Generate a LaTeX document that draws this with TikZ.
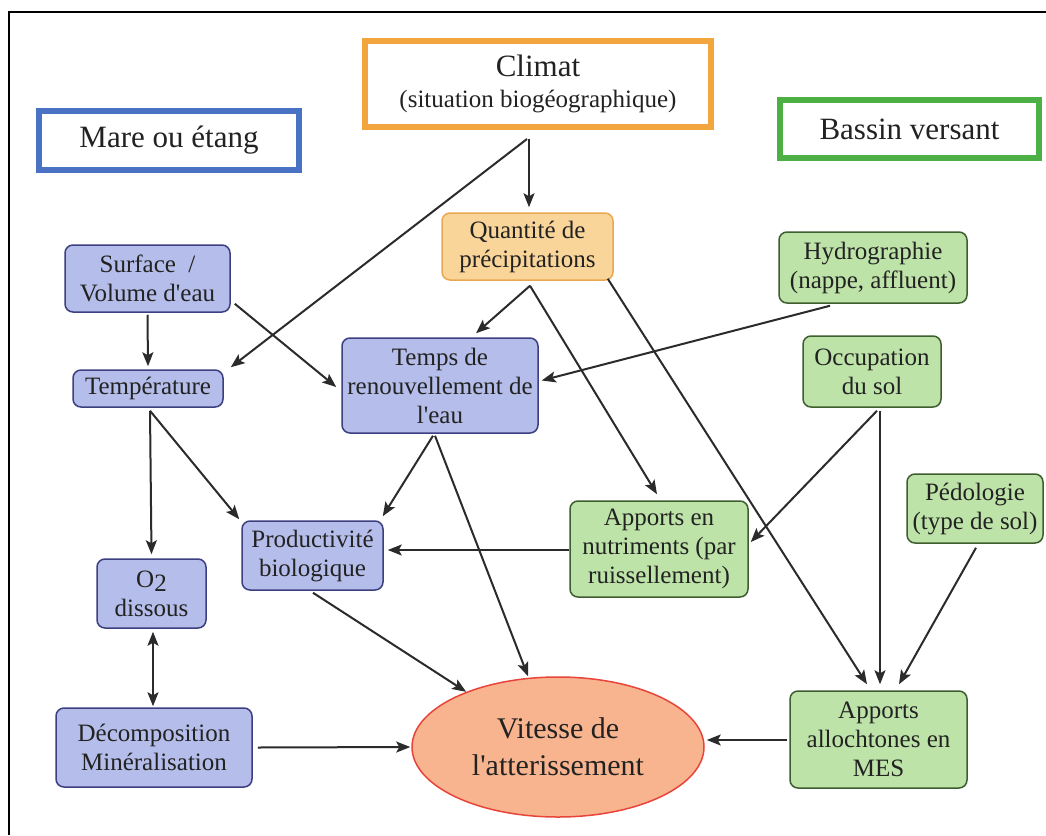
\documentclass[tikz,border=0pt]{standalone}
\usepackage{fontspec}
\setmainfont{Liberation Serif}[Ligatures=TeXOff]
\usetikzlibrary{arrows.meta,shapes.geometric,calc}
\definecolor{hblue}{HTML}{4A72C4}
\definecolor{horange}{HTML}{F4A63E}
\definecolor{hgreen}{HTML}{4DB045}
\definecolor{bfill}{HTML}{B5BEEA}
\definecolor{bdraw}{HTML}{3C3F80}
\definecolor{gfill}{HTML}{BEE3A8}
\definecolor{gdraw}{HTML}{3E5E30}
\definecolor{ofill}{HTML}{FAD59A}
\definecolor{odraw}{HTML}{E9A850}
\definecolor{efill}{HTML}{F8B48E}
\definecolor{edraw}{HTML}{E8443A}
\definecolor{arrc}{HTML}{2B2B2B}
\definecolor{txt}{HTML}{222222}
\begin{document}
\begin{tikzpicture}[x=1pt,y=-1pt,
  header/.style={draw, line width=6pt, fill=white, text=txt, align=center, inner sep=0pt, font=\fontsize{31}{31}\selectfont},
  boxbase/.style={rounded corners=8pt, line width=1.5pt, align=center, text=txt, inner sep=2pt, font=\fontsize{25}{29}\selectfont},
  bbox/.style={boxbase, draw=bdraw, fill=bfill},
  gbox/.style={boxbase, draw=gdraw, fill=gfill},
  obox/.style={boxbase, draw=odraw, fill=ofill},
  arr/.style={draw=arrc, line width=2pt, -{Stealth[length=14pt,width=11pt,inset=3pt]}},
  darr/.style={draw=arrc, line width=2pt, {Stealth[length=14pt,width=11pt,inset=3pt]}-{Stealth[length=14pt,width=11pt,inset=3pt]}}
]
\useasboundingbox (0,0) rectangle (1046,835);
\fill[white] (0,0) rectangle (1046,835);
\draw[black, line width=2.2pt] (9,835) -- (9,12) -- (1046,12);

% headers
\node[header, draw=hblue, minimum width=260pt, minimum height=59pt] (mare) at (169,140.5) {Mare ou étang};
\node[header, draw=horange, minimum width=346pt, minimum height=86pt] (clim) at (538,84) {Climat\\[0pt]{\fontsize{25}{25}\selectfont (situation biogéographique)}};
\node[header, draw=hgreen, minimum width=259pt, minimum height=58pt] (bassin) at (909.5,129) {Bassin versant};

% blue boxes
\node[bbox, minimum width=165pt, minimum height=67pt] (surf) at (147.5,278.5) {Surface \ /\\Volume d'eau};
\node[bbox, minimum width=150pt, minimum height=37pt] (temp) at (148,388.5) {Température};
\node[bbox, minimum width=196pt, minimum height=95pt] (tren) at (440,385.5) {Temps de\\renouvellement de\\l'eau};
\node[bbox, minimum width=141pt, minimum height=69pt] (prod) at (312.5,555.5) {Productivité\\biologique};
\node[bbox, minimum width=109pt, minimum height=69pt] (o2) at (151.5,593.5) {O\raisebox{-0.35ex}{2}\\dissous};
\node[bbox, minimum width=196pt, minimum height=79pt] (decomp) at (154,747.5) {Décomposition\\Minéralisation};

% orange box
\node[obox, minimum width=171pt, minimum height=67pt] (quant) at (527.5,246.5) {Quantité de\\précipitations};

% green boxes
\node[gbox, minimum width=188pt, minimum height=71pt] (hydro) at (873,267.5) {Hydrographie\\(nappe, affluent)};
\node[gbox, minimum width=138pt, minimum height=71pt] (occup) at (872,371.5) {Occupation\\du sol};
\node[gbox, minimum width=136pt, minimum height=69pt] (pedo) at (975,508.5) {Pédologie\\(type de sol)};
\node[gbox, minimum width=178pt, minimum height=96pt] (nutr) at (659,549) {Apports en\\nutriments (par\\ruissellement)};
\node[gbox, minimum width=177pt, minimum height=97pt] (mes) at (878.5,739.5) {Apports\\allochtones en\\MES};

% ellipse
\node[ellipse, draw=edraw, fill=efill, line width=1.5pt, minimum width=292pt, minimum height=140pt, inner sep=0pt, align=center, text=txt, font=\fontsize{30}{37}\selectfont] (ell) at (558,747) {Vitesse de\\l'atterissement};

% connectors
\draw[arr] ([shift={(-9,9)}]clim.south) -- ([shift={(1.5,-5)}]quant.north);
\draw[arr] ([shift={(-11,9)}]clim.south) -- ([shift={(7,-2)}]temp.north east);
\draw[arr] ([shift={(0,2)}]surf.south) -- ([shift={(0,-3)}]temp.north);
\draw[arr] ([shift={(4,-9)}]surf.south east) -- ([shift={(-5,1.5)}]tren.west);
\draw[arr] ([shift={(2.5,5)}]quant.south) -- ([shift={(36,-4)}]tren.north);
\draw[arr] ([shift={(2.5,5)}]quant.south) -- ([shift={(-2,-6)}]nutr.north);
\draw[arr] ([shift={(-6,-2)}]quant.south east) -- ([shift={(-11.5,-6)}]mes.north);
\draw[arr] ([shift={(-43,2)}]hydro.south) -- ([shift={(3,-5)}]tren.east);
\draw[arr] ([shift={(-7,2)}]tren.south) -- ([shift={(-1,-4)}]prod.north east);
\draw[arr] ([shift={(-5,2)}]tren.south) -- ([shift={(-30,0)}]ell.north);
\draw[arr] ([shift={(2,3)}]temp.south) -- ([shift={(-2,-1)}]prod.north west);
\draw[arr] ([shift={(2,3)}]temp.south) -- ([shift={(0,-4)}]o2.north);
\draw[darr] ([shift={(1.5,3)}]o2.south) -- ([shift={(-1,-1)}]decomp.north);
\draw[arr] ([shift={(5,0)}]decomp.east) -- ([shift={(-1,0)}]ell.west);
\draw[arr] ([shift={(0.5,2)}]prod.south) -- (ell.149);
\draw[arr] ([shift={(0,1)}]nutr.west) -- ([shift={(4,-5.5)}]prod.east);
\draw[arr] ([shift={(5,3)}]occup.south) -- ([shift={(2,-7)}]nutr.east);
\draw[arr] ([shift={(8,3)}]occup.south) -- ([shift={(1.5,-6)}]mes.north);
\draw[arr] ([shift={(1,4)}]pedo.south) -- ([shift={(20.5,-6)}]mes.north);
\draw[arr] ([shift={(-2,0.5)}]mes.west) -- ([shift={(2,-7)}]ell.east);
\end{tikzpicture}
\end{document}
